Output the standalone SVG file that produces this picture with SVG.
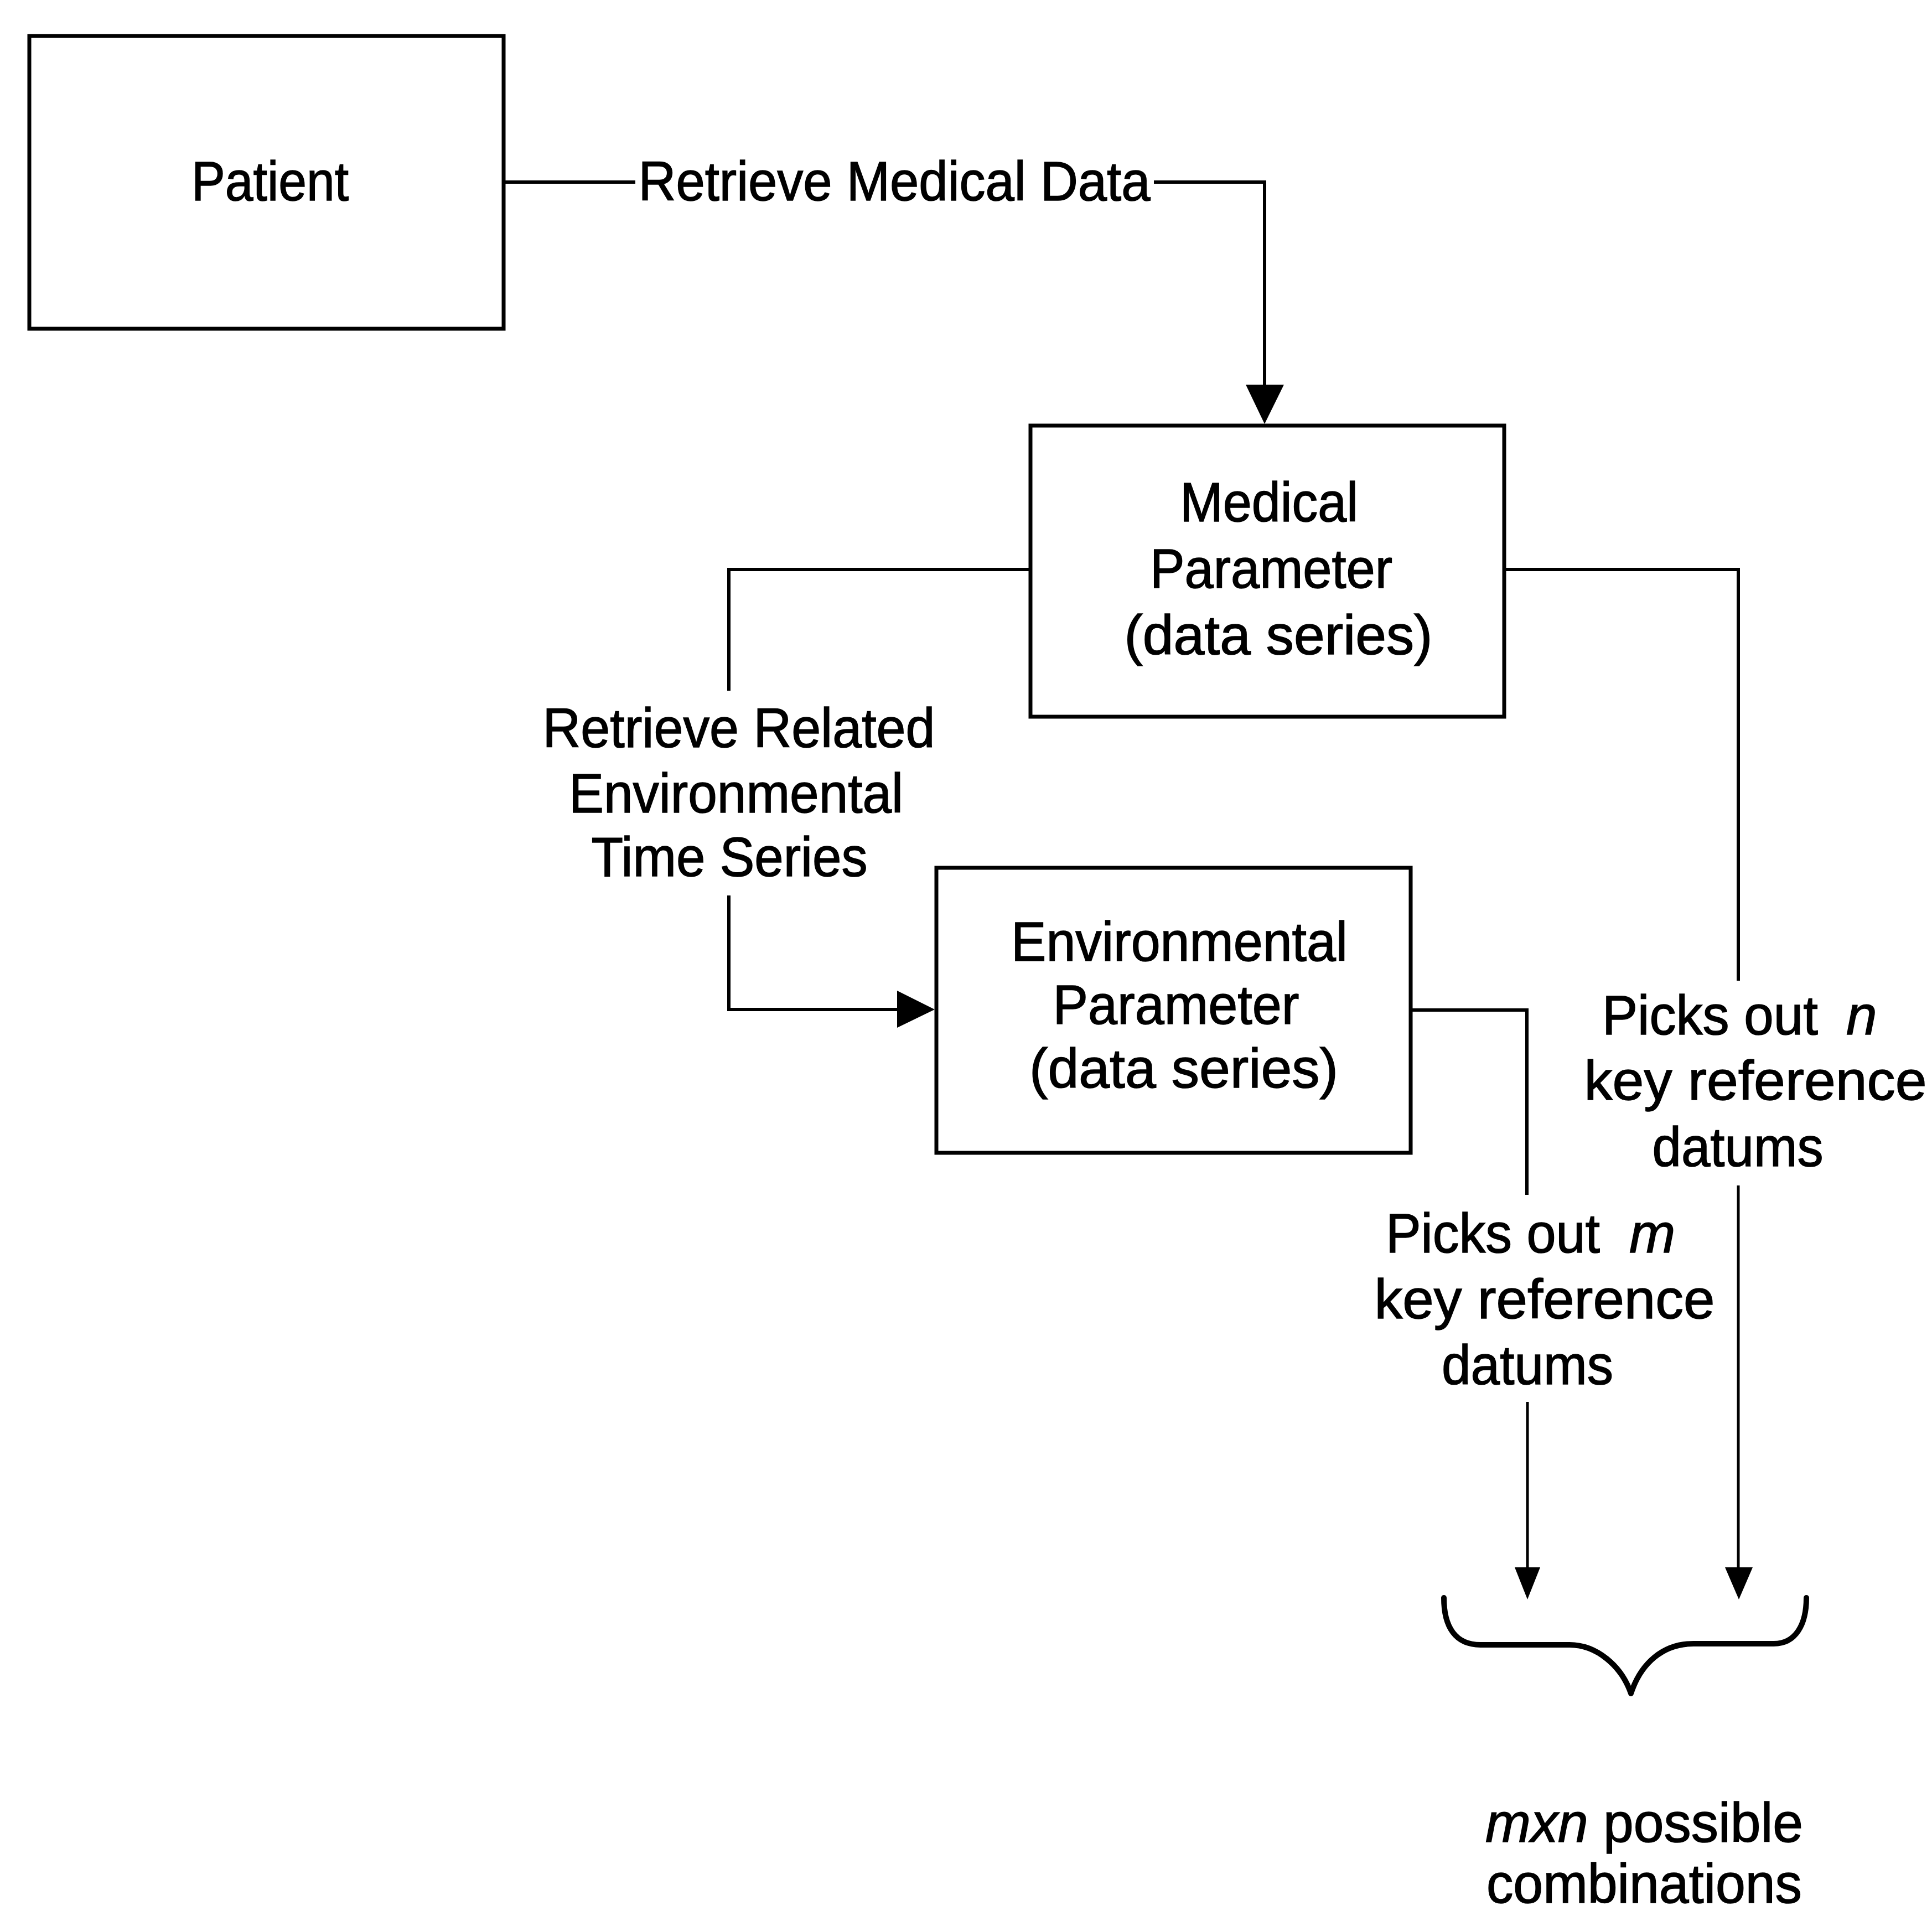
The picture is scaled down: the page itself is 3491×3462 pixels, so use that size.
<svg xmlns="http://www.w3.org/2000/svg" width="3491" height="3462" viewBox="0 0 3491 3462">
  <style>
    .box { fill: #ffffff; stroke: #000000; stroke-width: 7; }
    .line { fill: none; stroke: #000000; stroke-width: 6; stroke-linejoin: miter; }
    .thin { fill: none; stroke: #000000; stroke-width: 5; }
    .head { fill: #000000; stroke: none; }
    .brace { fill: none; stroke: #000000; stroke-width: 10; stroke-linecap: round; stroke-linejoin: round; }
    text { font-family: "Liberation Sans", Arial, "DejaVu Sans", sans-serif; font-size: 100px; fill: #000000; stroke: #000000; stroke-width: 1.5; text-anchor: middle; }
    .start { text-anchor: start; }
    .it { font-style: italic; }
  </style>

  <rect x="0" y="0" width="3491" height="3462" fill="#ffffff"/>

  <!-- connectors -->
  <g id="connectors">
    <!-- Patient to Medical Parameter -->
    <polyline class="line" points="913,329 1148,329"/>
    <polyline class="line" points="2085,329 2285,329 2285,700"/>
    <polygon class="head" points="2251,695 2320,695 2285,766"/>

    <!-- Medical Parameter to Environmental Parameter -->
    <polyline class="line" points="1859,1029 1317,1029 1317,1248"/>
    <polyline class="line" points="1317,1618 1317,1824 1625,1824"/>
    <polygon class="head" points="1621,1790 1621,1857 1689,1824"/>

    <!-- Medical Parameter picks out n -->
    <polyline class="line" points="2721,1029 3141,1029 3141,1772"/>
    <polyline class="thin" points="3141,2142 3141,2836"/>
    <polygon class="head" points="3117,2832 3167,2832 3142,2890"/>

    <!-- Environmental Parameter picks out m -->
    <polyline class="line" points="2552,1825 2759,1825 2759,2159"/>
    <polyline class="thin" points="2760,2533 2760,2836"/>
    <polygon class="head" points="2737,2832 2783,2832 2760,2890"/>

    <!-- connector labels -->
    <text x="1616" y="362" textLength="925" lengthAdjust="spacingAndGlyphs">Retrieve Medical Data</text>

    <text x="1335" y="1350" textLength="709" lengthAdjust="spacingAndGlyphs">Retrieve Related</text>
    <text x="1330" y="1468" textLength="604" lengthAdjust="spacingAndGlyphs">Environmental</text>
    <text x="1318" y="1583" textLength="499" lengthAdjust="spacingAndGlyphs">Time Series</text>

    <text class="start" x="2895" y="1869" textLength="390" lengthAdjust="spacingAndGlyphs">Picks out</text>
    <text class="start it" x="3336" y="1869">n</text>
    <text x="3172" y="1987" textLength="619" lengthAdjust="spacingAndGlyphs">key reference</text>
    <text x="3140" y="2107" textLength="309" lengthAdjust="spacingAndGlyphs">datums</text>

    <text class="start" x="2504" y="2263" textLength="387" lengthAdjust="spacingAndGlyphs">Picks out</text>
    <text class="start it" x="2944" y="2263">m</text>
    <text x="2791" y="2382" textLength="615" lengthAdjust="spacingAndGlyphs">key reference</text>
    <text x="2760" y="2501" textLength="310" lengthAdjust="spacingAndGlyphs">datums</text>
  </g>

  <!-- nodes -->
  <g id="patient">
    <rect class="box" x="53" y="65" width="857" height="529"/>
    <text x="488" y="362" textLength="284" lengthAdjust="spacingAndGlyphs">Patient</text>
  </g>

  <g id="medical-parameter">
    <rect class="box" x="1862" y="769" width="856" height="526"/>
    <text x="2293" y="942" textLength="322" lengthAdjust="spacingAndGlyphs">Medical</text>
    <text x="2297" y="1062" textLength="438" lengthAdjust="spacingAndGlyphs">Parameter</text>
    <text x="2310" y="1182" textLength="557" lengthAdjust="spacingAndGlyphs">(data series)</text>
  </g>

  <g id="environmental-parameter">
    <rect class="box" x="1692" y="1568" width="857" height="515"/>
    <text x="2131" y="1736" textLength="608" lengthAdjust="spacingAndGlyphs">Environmental</text>
    <text x="2125" y="1850" textLength="445" lengthAdjust="spacingAndGlyphs">Parameter</text>
    <text x="2139" y="1965" textLength="558" lengthAdjust="spacingAndGlyphs">(data series)</text>
  </g>

  <!-- combined result: brace and caption -->
  <g id="combinations">
    <path class="brace" d="M2609,2887 C2609,2940 2630,2972 2675,2972 L2836,2972 C2885,2972 2930,3010 2947,3060 C2965,3005 3005,2970 3060,2970 L3205,2970 C3245,2970 3264,2935 3264,2887"/>
    <text x="2971" y="3328" textLength="574" lengthAdjust="spacingAndGlyphs"><tspan class="it">mxn</tspan> possible</text>
    <text x="2971" y="3438" textLength="570" lengthAdjust="spacingAndGlyphs">combinations</text>
  </g>
</svg>
